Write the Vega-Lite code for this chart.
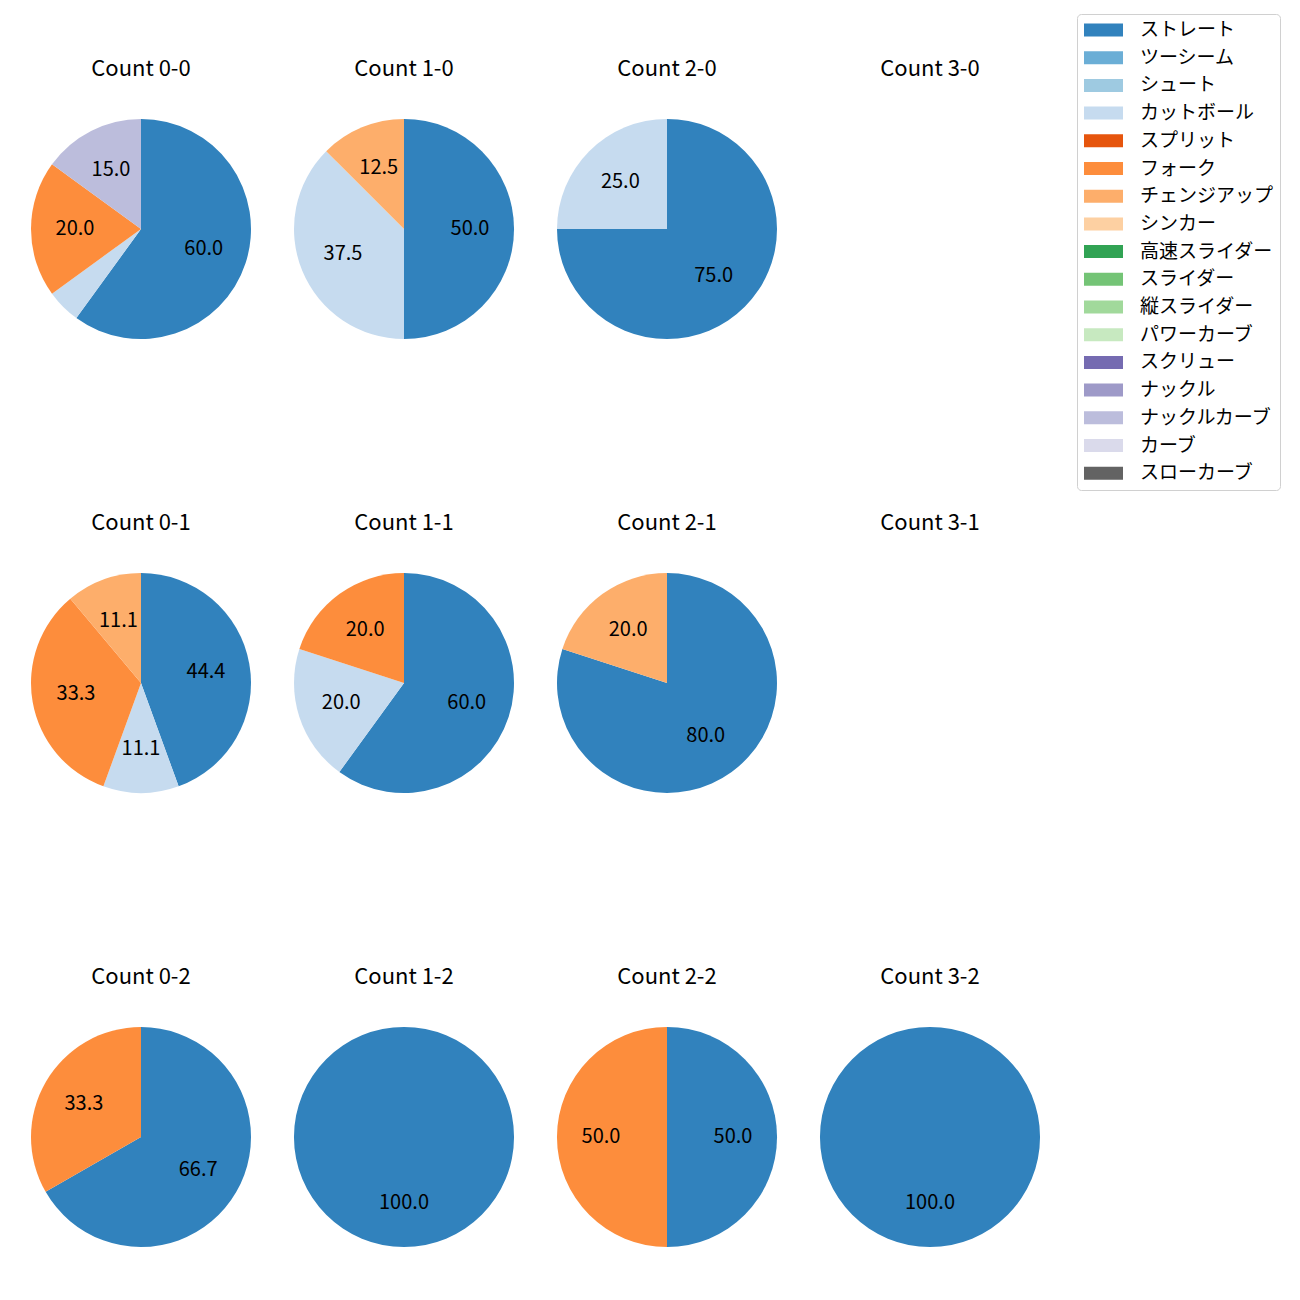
{
  "$schema": "https://vega.github.io/schema/vega-lite/v6.json",
  "background": "white",
  "padding": {"left": 31, "top": 13, "right": 5, "bottom": 5},
  "data": {"values": [
    {"panel": "Count 0-0", "pitch": "ストレート", "value": 60.0, "ord": 0},
    {"panel": "Count 0-0", "pitch": "カットボール", "value": 5.0, "ord": 3},
    {"panel": "Count 0-0", "pitch": "フォーク", "value": 20.0, "ord": 5},
    {"panel": "Count 0-0", "pitch": "ナックルカーブ", "value": 15.0, "ord": 14},
    {"panel": "Count 1-0", "pitch": "ストレート", "value": 50.0, "ord": 0},
    {"panel": "Count 1-0", "pitch": "カットボール", "value": 37.5, "ord": 3},
    {"panel": "Count 1-0", "pitch": "チェンジアップ", "value": 12.5, "ord": 6},
    {"panel": "Count 2-0", "pitch": "ストレート", "value": 75.0, "ord": 0},
    {"panel": "Count 2-0", "pitch": "カットボール", "value": 25.0, "ord": 3},
    {"panel": "Count 3-0", "pitch": "ストレート", "value": 0, "ord": 0},
    {"panel": "Count 0-1", "pitch": "ストレート", "value": 44.4, "ord": 0},
    {"panel": "Count 0-1", "pitch": "カットボール", "value": 11.1, "ord": 3},
    {"panel": "Count 0-1", "pitch": "フォーク", "value": 33.3, "ord": 5},
    {"panel": "Count 0-1", "pitch": "チェンジアップ", "value": 11.1, "ord": 6},
    {"panel": "Count 1-1", "pitch": "ストレート", "value": 60.0, "ord": 0},
    {"panel": "Count 1-1", "pitch": "カットボール", "value": 20.0, "ord": 3},
    {"panel": "Count 1-1", "pitch": "フォーク", "value": 20.0, "ord": 5},
    {"panel": "Count 2-1", "pitch": "ストレート", "value": 80.0, "ord": 0},
    {"panel": "Count 2-1", "pitch": "チェンジアップ", "value": 20.0, "ord": 6},
    {"panel": "Count 3-1", "pitch": "ストレート", "value": 0, "ord": 0},
    {"panel": "Count 0-2", "pitch": "ストレート", "value": 66.7, "ord": 0},
    {"panel": "Count 0-2", "pitch": "フォーク", "value": 33.3, "ord": 5},
    {"panel": "Count 1-2", "pitch": "ストレート", "value": 100.0, "ord": 0},
    {"panel": "Count 2-2", "pitch": "ストレート", "value": 50.0, "ord": 0},
    {"panel": "Count 2-2", "pitch": "フォーク", "value": 50.0, "ord": 5},
    {"panel": "Count 3-2", "pitch": "ストレート", "value": 100.0, "ord": 0}
  ]},
  "facet": {
    "field": "panel",
    "type": "nominal",
    "sort": ["Count 0-0", "Count 1-0", "Count 2-0", "Count 3-0", "Count 0-1", "Count 1-1", "Count 2-1", "Count 3-1", "Count 0-2", "Count 1-2", "Count 2-2", "Count 3-2"],
    "header": {"title": null, "labelFontSize": 22, "labelFont": "Noto Sans CJK JP", "labelColor": "black", "labelPadding": 38}
  },
  "columns": 4,
  "spacing": {"column": 43, "row": 173},
  "spec": {
    "width": 220,
    "height": 220,
    "layer": [
      {
        "mark": {"type": "arc"},
        "encoding": {
          "theta": {"field": "value", "type": "quantitative", "stack": true},
          "order": {"field": "ord", "type": "quantitative"},
          "color": {
            "field": "pitch",
            "type": "nominal",
            "scale": {
              "domain": ["ストレート", "ツーシーム", "シュート", "カットボール", "スプリット", "フォーク", "チェンジアップ", "シンカー", "高速スライダー", "スライダー", "縦スライダー", "パワーカーブ", "スクリュー", "ナックル", "ナックルカーブ", "カーブ", "スローカーブ"],
              "range": ["#3182bd", "#6baed6", "#9ecae1", "#c6dbef", "#e6550d", "#fd8d3c", "#fdae6b", "#fdd0a2", "#31a354", "#74c476", "#a1d99b", "#c7e9c0", "#756bb1", "#9e9ac8", "#bcbddc", "#dadaeb", "#636363"]
            },
            "legend": {
              "title": null,
              "orient": "none",
              "legendX": 1046,
              "legendY": -105,
              "padding": 6.5,
              "strokeColor": "#d0d0d0",
              "cornerRadius": 4,
              "symbolType": "M-3,-1H3V1H-3Z",
              "symbolSize": 169,
              "symbolOffset": 10.5,
              "symbolStrokeWidth": 0,
              "symbolOpacity": 1,
              "labelFontSize": 19,
              "labelFont": "Noto Sans CJK JP",
              "labelColor": "black",
              "labelOffset": 27,
              "labelLimit": 300,
              "rowPadding": 7.7
            }
          }
        }
      },
      {
        "mark": {"type": "text", "radius": 66, "fontSize": 20, "font": "Noto Sans CJK JP", "color": "black"},
        "encoding": {
          "theta": {"field": "value", "type": "quantitative", "stack": true},
          "order": {"field": "ord", "type": "quantitative"},
          "text": {"condition": {"test": "datum.value < 6", "value": ""}, "field": "value", "type": "quantitative", "format": ".1f"}
        }
      }
    ]
  },
  "resolve": {"scale": {"theta": "independent"}},
  "config": {"view": {"stroke": null}}
}
